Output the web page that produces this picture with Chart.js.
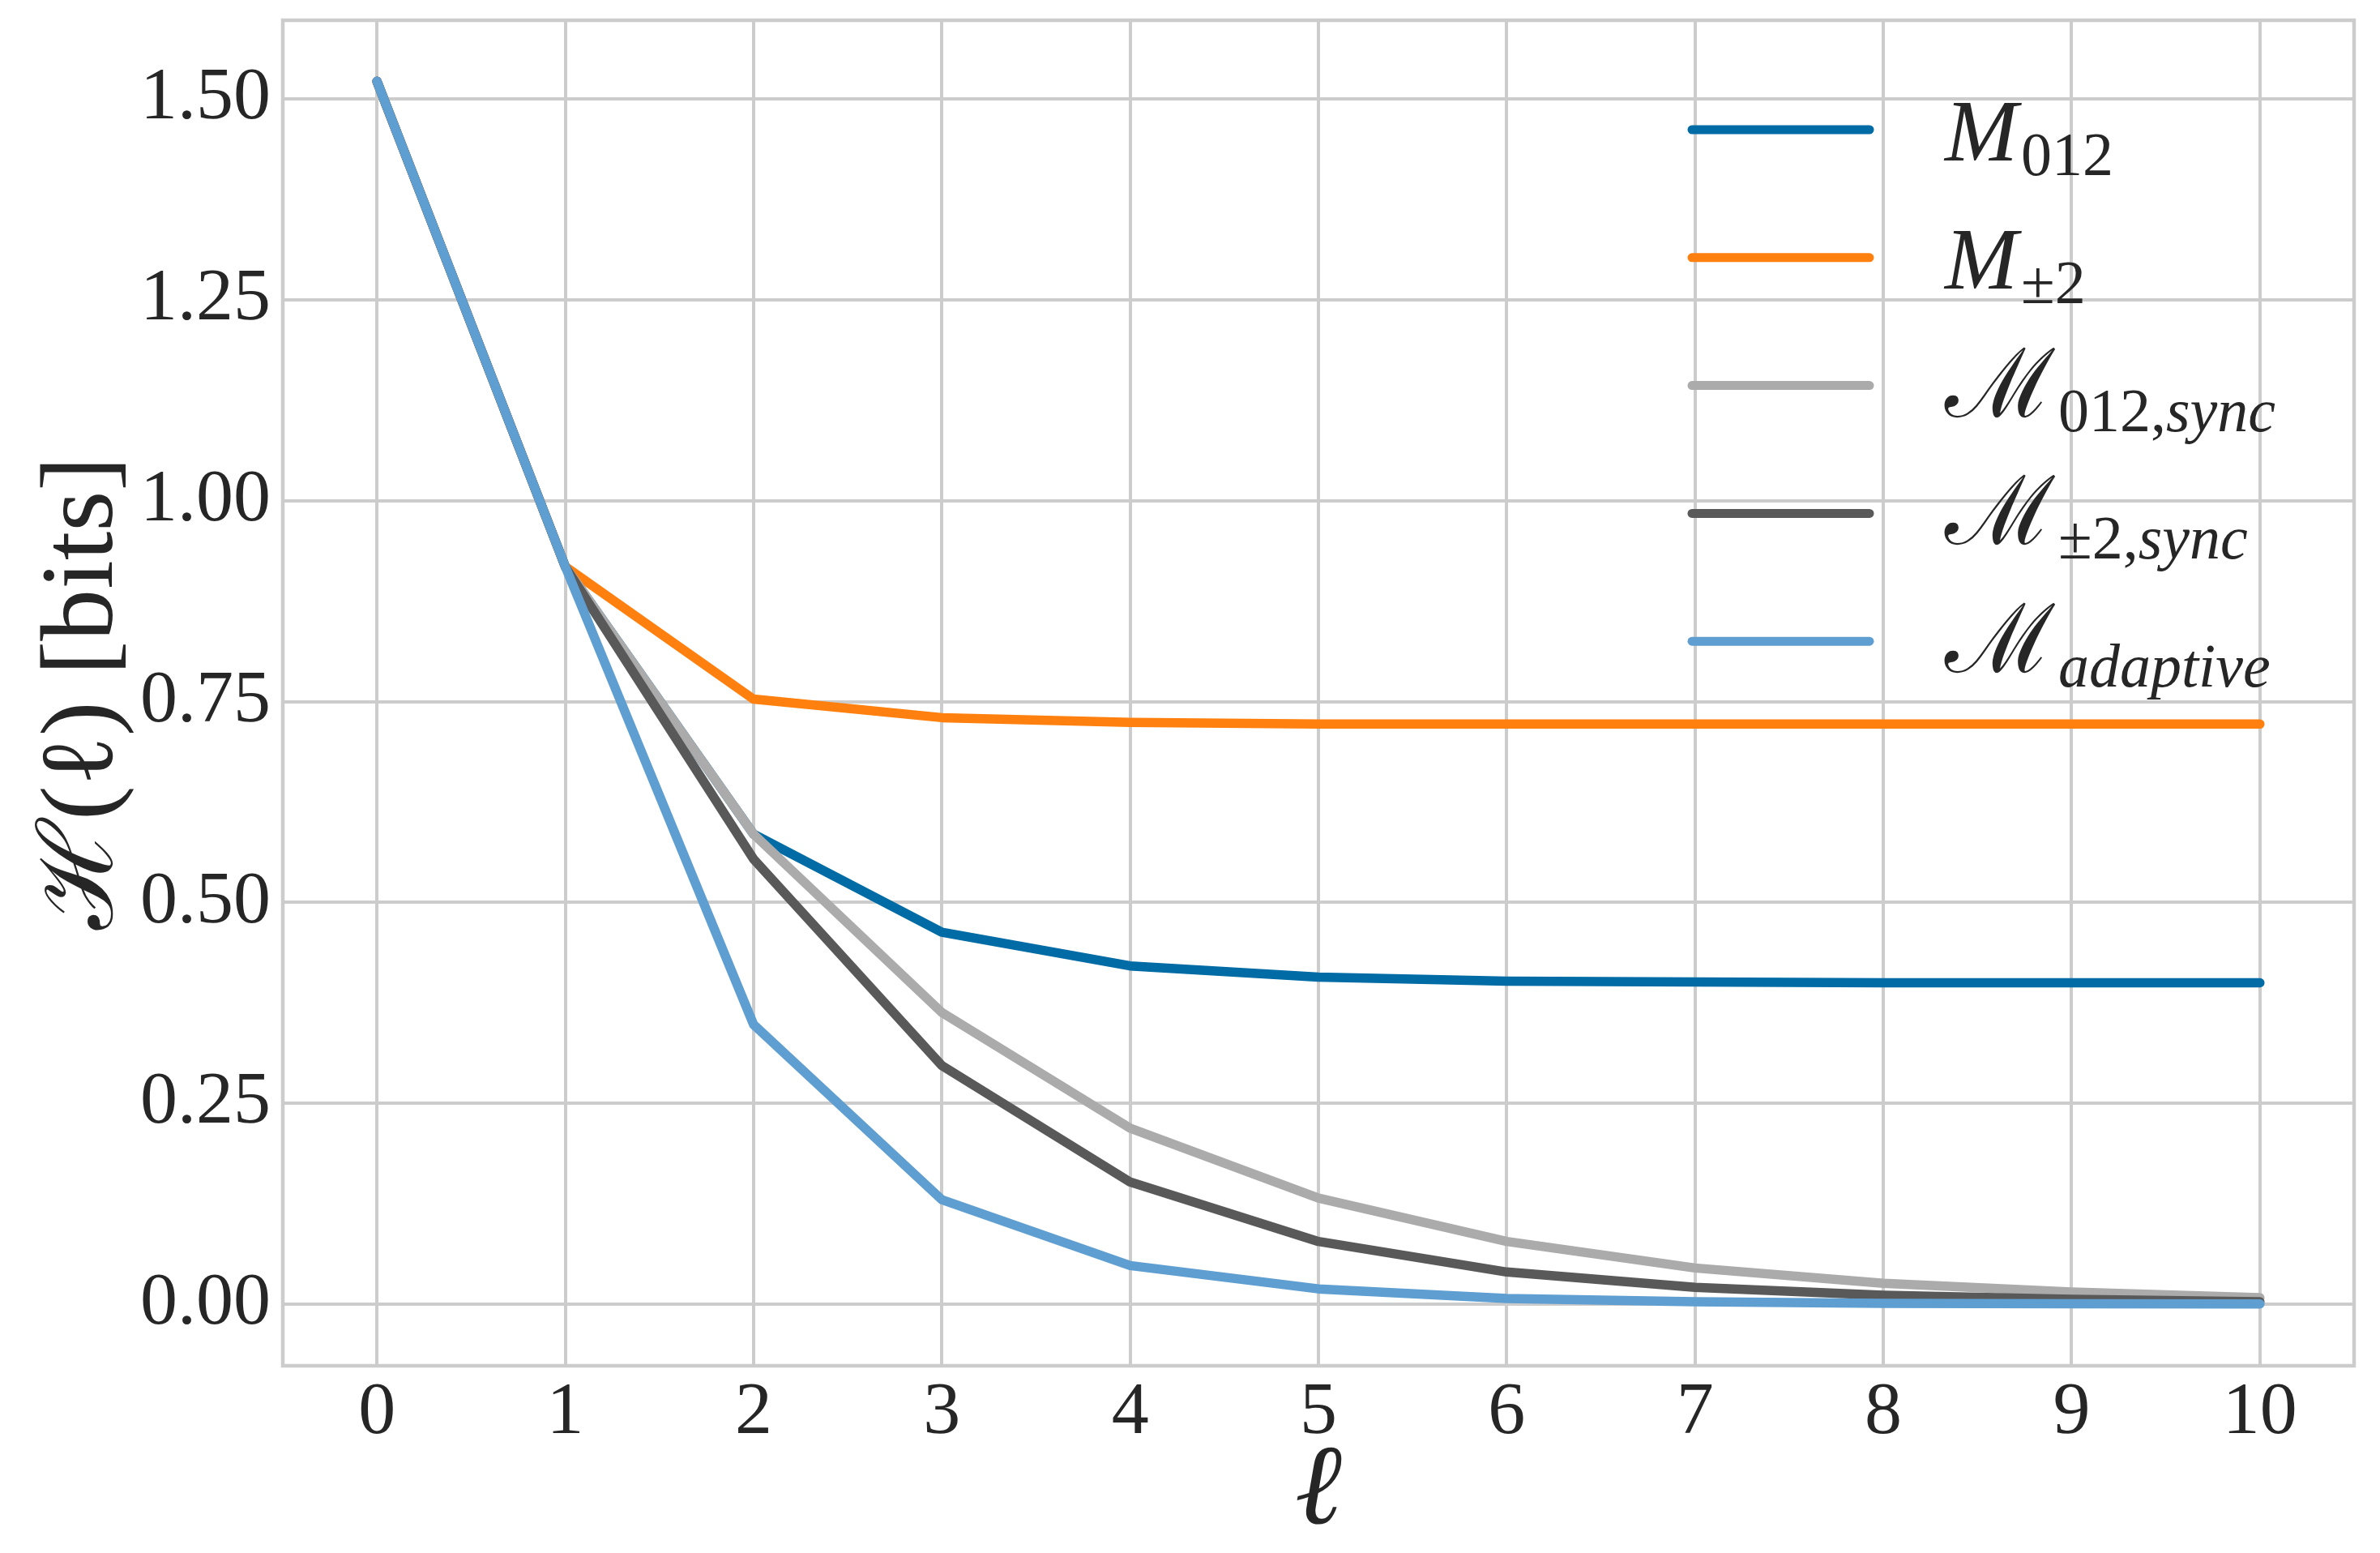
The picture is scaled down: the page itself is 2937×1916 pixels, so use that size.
<!DOCTYPE html>
<html>
<head>
<meta charset="utf-8">
<script src="https://cdn.jsdelivr.net/npm/chart.js@4.4.1/dist/chart.umd.min.js"></script>
<style>
body { margin: 0; background: #fff; }
#wrap { width: 2937px; height: 1916px; }
</style>
</head>
<body>
<div id="wrap"><canvas id="entropyChart" width="2937" height="1916"></canvas></div>
<script>
// valores
const ellValues = [0, 1, 2, 3, 4, 5, 6, 7, 8, 9, 10];
const hM012 = [1.522, 0.918, 0.585, 0.463, 0.421, 0.407, 0.402, 0.401, 0.400, 0.400, 0.400];
const hMpm2 = [1.522, 0.918, 0.753, 0.730, 0.724, 0.722, 0.722, 0.722, 0.722, 0.722, 0.722];
const hM012Sync = [1.522, 0.918, 0.585, 0.363, 0.219, 0.132, 0.078, 0.045, 0.026, 0.015, 0.008];
const hMpm2Sync = [1.522, 0.918, 0.554, 0.297, 0.152, 0.078, 0.040, 0.021, 0.011, 0.006, 0.003];
const hAdaptive = [1.522, 0.918, 0.348, 0.130, 0.048, 0.019, 0.007, 0.003, 0.001, 0.0005, 0.0002];
const yTickValues = [0, 0.25, 0.5, 0.75, 1.0, 1.25, 1.5];
const xTickValues = [0, 1, 2, 3, 4, 5, 6, 7, 8, 9, 10];
const seriesNames = ['M012', 'M±2', 'ℳ012,sync', 'ℳ±2,sync', 'ℳadaptive'];

const seriesValues = [hM012, hMpm2, hM012Sync, hMpm2Sync, hAdaptive];
const seriesColors = ['#006BA4', '#FF800E', '#ABABAB', '#595959', '#5F9ED1'];
const textColor = '#262626';
const gridColor = '#cccccc';
const serif = "'Liberation Serif', 'DejaVu Serif', serif";

// partes do texto da legenda: [texto, estilo, nível]
const legendParts = [
    [['M', 'it', 'main'], ['012', 'rm', 'sub']],
    [['M', 'it', 'main'], ['±2', 'rm', 'sub']],
    [['ℳ', 'rm', 'main'], ['012,', 'rm', 'sub'], ['sync', 'it', 'sub']],
    [['ℳ', 'rm', 'main'], ['±2,', 'rm', 'sub'], ['sync', 'it', 'sub']],
    [['ℳ', 'rm', 'main'], ['adaptive', 'it', 'sub']]
];

// moldura cinza em volta da área do gráfico
const framePlugin = {
    id: 'frame',
    beforeDatasetsDraw(chart) {
        const { ctx, chartArea: a } = chart;
        ctx.save();
        ctx.strokeStyle = gridColor;
        ctx.lineWidth = 4.5;
        ctx.strokeRect(a.left, a.top, a.right - a.left, a.bottom - a.top);
        ctx.restore();
    }
};

// legenda desenhada à mão por causa dos subscritos
const mathLegend = {
    id: 'mathLegend',
    afterDatasetsDraw(chart) {
        const { ctx, chartArea: a } = chart;
        const x0 = a.right - 817, x1 = a.right - 598, xt = a.right - 505;
        legendParts.forEach((parts, i) => {
            const y = a.top + 135 + i * 157.8;
            ctx.save();
            ctx.strokeStyle = seriesColors[i];
            ctx.lineWidth = 11;
            ctx.lineCap = 'round';
            ctx.beginPath();
            ctx.moveTo(x0, y);
            ctx.lineTo(x1, y);
            ctx.stroke();

            ctx.fillStyle = textColor;
            ctx.textBaseline = 'alphabetic';
            ctx.textAlign = 'left';
            let x = xt;
            parts.forEach(([txt, style, level]) => {
                const size = level === 'main' ? (txt === 'ℳ' ? 118 : 108) : 76;
                const base = level === 'main' ? y + 38 : y + 56;
                ctx.font = (style === 'it' ? 'italic ' : '') + size + 'px ' + serif;
                ctx.fillText(txt, x, base);
                x += ctx.measureText(txt).width + (level === 'main' ? 4 : 0);
            });
            ctx.restore();
        });
    }
};

document.addEventListener('DOMContentLoaded', () => {
    const ctx = document.getElementById('entropyChart').getContext('2d');

    const datasets = seriesValues.map((vals, i) => ({
        label: seriesNames[i],
        data: ellValues.map((x, j) => ({ x: x, y: vals[j] })),
        borderColor: seriesColors[i],
        borderWidth: 11.5,
        pointRadius: 0,
        fill: false,
        tension: 0,
        borderJoinStyle: 'round',
        borderCapStyle: 'round',
        order: seriesValues.length - i
    }));

    new Chart(ctx, {
        type: 'line',
        data: { datasets: datasets },
        options: {
            responsive: false,
            animation: false,
            devicePixelRatio: 1,
            layout: { padding: { top: 25, right: 32, left: 0, bottom: 0 } },
            plugins: {
                legend: { display: false },
                tooltip: { enabled: false }
            },
            scales: {
                x: {
                    type: 'linear',
                    min: -0.5,
                    max: 10.5,
                    afterBuildTicks: s => { s.ticks = xTickValues.map(v => ({ value: v })); },
                    afterFit: s => { s.height = 231; s.paddingLeft = 0; s.paddingRight = 0; },
                    grid: { color: gridColor, lineWidth: 4, drawTicks: false },
                    border: { display: false },
                    ticks: {
                        color: textColor,
                        font: { family: serif, size: 92 },
                        padding: 4,
                        maxRotation: 0,
                        callback: v => v.toFixed(0)
                    },
                    title: {
                        display: true,
                        text: 'ℓ',
                        color: textColor,
                        font: { family: serif, size: 140, style: 'italic' },
                        padding: { top: 0, bottom: -10 }
                    }
                },
                y: {
                    min: -0.0767,
                    max: 1.598,
                    afterBuildTicks: s => { s.ticks = yTickValues.map(v => ({ value: v })); },
                    afterFit: s => { s.width = 349; s.paddingTop = 0; s.paddingBottom = 0; },
                    grid: { color: gridColor, lineWidth: 4, drawTicks: false },
                    border: { display: false },
                    ticks: {
                        color: textColor,
                        font: { family: serif, size: 92 },
                        padding: 15,
                        callback: v => v.toFixed(2)
                    },
                    title: {
                        display: true,
                        text: 'ℋ(ℓ) [bits]',
                        color: textColor,
                        font: { family: serif, size: 128 },
                        padding: { top: 28, bottom: 0 }
                    }
                }
            }
        },
        plugins: [framePlugin, mathLegend]
    });
});
</script>
</body>
</html>
